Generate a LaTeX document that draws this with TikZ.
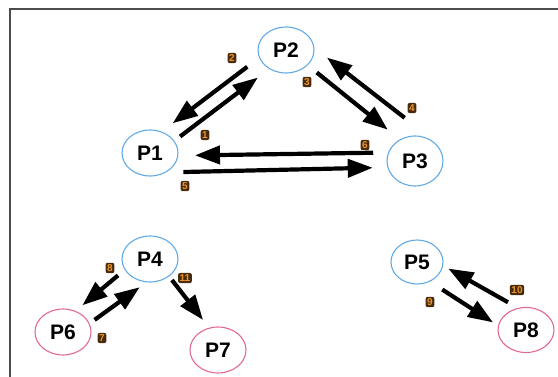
\documentclass[tikz,border=0pt]{standalone}
\usepackage{fontspec}
\setsansfont{Liberation Sans}
\usetikzlibrary{positioning,arrows.meta,calc,shapes.geometric}

\definecolor{procblue}{RGB}{98,170,230}
\definecolor{procpink}{RGB}{228,104,150}
\definecolor{tagbg}{RGB}{72,42,12}
\definecolor{tagfg}{RGB}{235,150,40}

\begin{document}
\begin{tikzpicture}[
        x=1pt, y=-1pt,
        proc/.style={ellipse, draw=procblue, line width=1.1pt, minimum width=56pt, minimum height=46pt, inner sep=0pt, font=\sffamily\bfseries\fontsize{21}{21}\selectfont},
        idle/.style={proc, draw=procpink},
        tag/.style={fill=tagbg, text=tagfg, rounded corners=2pt, inner sep=1.6pt, font=\sffamily\bfseries\fontsize{10}{10}\selectfont},
        arr/.style={-{Triangle[length=25pt,width=18pt]}, line width=4.2pt},
        frame/.style={draw=black!70, line width=1.2pt}
      ]
      \useasboundingbox (0,0) rectangle (558,377);
      \draw[frame] (10,377) -- (10,9) -- (558,9);

      % Top group
      \node[proc] (P1) at (150,153) {P1};
      \node[proc] (P2) at (286,50) {P2};
      \node[proc, minimum height=50pt] (P3) at (415,161) {P3};
      \draw[arr] ($(P1)!34pt!(P2)!5pt!-90:(P2)$) -- ($(P2)!39pt!(P1)!5pt!90:(P1)$);
      \draw[arr] ($(P2)!41pt!(P1)!10pt!-90:(P1)$) -- ($(P1)!36pt!(P2)!10pt!90:(P2)$);
      \draw[arr] ($(P2)!38pt!(P3)!3pt!90:(P3)$) -- ($(P3)!41pt!(P2)!6pt!-90:(P2)$);
      \draw[arr] ($(P3)!36pt!(P2)!26pt!-90:(P2)$) -- ($(P2)!36pt!(P3)!21pt!90:(P3)$);
      \draw[arr] ($(P1)!34pt!(P3)!18pt!-90:(P3)$) -- ($(P3)!42pt!(P1)!8pt!90:(P1)$);
      \draw[arr] ($(P3)!42pt!(P1)!7pt!-90:(P1)$) -- ($(P1)!45pt!(P3)!1pt!-90:(P3)$);
      \node[tag] at (205,135) {1};
      \node[tag] at (232,58) {2};
      \node[tag] at (307,82) {3};
      \node[tag] at (412,108) {4};
      \node[tag] at (185,186) {5};
      \node[tag] at (365,145) {6};

      % Left group
      \node[proc] (P4) at (150,259) {P4};
      \node[idle] (P6) at (63,332) {P6};
      \node[idle] (P7) at (218,350) {P7};
      \draw[arr] ($(P4)!35pt!(P6)!8pt!-90:(P6)$) -- ($(P6)!32pt!(P4)!8pt!90:(P4)$);
      \draw[arr] ($(P6)!32pt!(P4)!11pt!-90:(P4)$) -- ($(P4)!26pt!(P6)!15pt!90:(P6)$);
      \draw[arr] ($(P4)!30pt!(P7)!5pt!90:(P7)$) -- ($(P7)!33pt!(P4)!6pt!-90:(P4)$);
      \node[tag] at (102,338) {7};
      \node[tag] at (110,268) {8};
      \node[tag] at (185,278) {11};

      % Right group
      \node[proc, minimum width=52pt, minimum height=44pt] (P5) at (417,262) {P5};
      \node[idle, minimum height=45pt] (P8) at (526,330) {P8};
      \draw[arr] ($(P5)!36pt!(P8)!10pt!-90:(P8)$) -- ($(P8)!32pt!(P5)!11pt!90:(P5)$);
      \draw[arr] ($(P8)!30pt!(P5)!14pt!-90:(P5)$) -- ($(P5)!30pt!(P8)!11pt!90:(P8)$);
      \node[tag] at (430,302) {9};
      \node[tag] at (517,290) {10};

\end{tikzpicture}
\end{document}
